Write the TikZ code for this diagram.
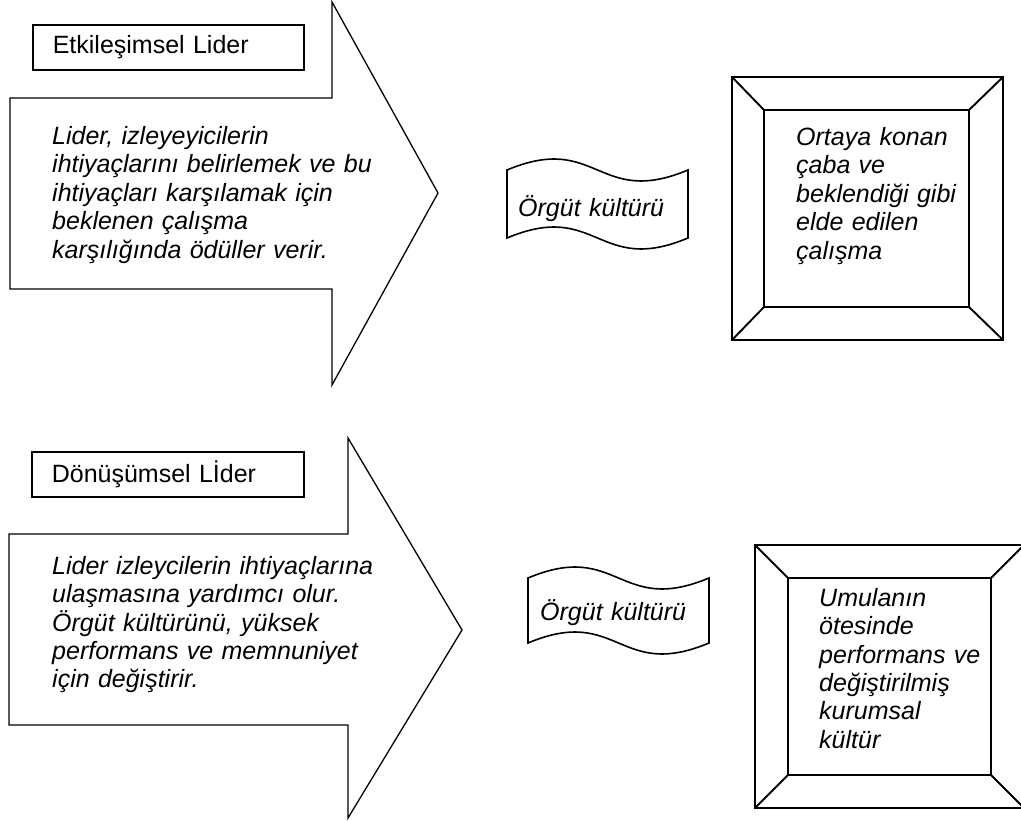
\documentclass[tikz,border=0pt]{standalone}
\usepackage{fontspec}
\setmainfont{Liberation Sans}
\begin{document}
\begin{tikzpicture}[x=1pt,y=-1pt,
  arrowline/.style={draw=black, line width=1.3pt, line join=miter},
  labelbox/.style={draw=black, line width=1.6pt, anchor=north west,
    inner xsep=20pt, inner ysep=0pt, text width=231pt, minimum height=45pt,
    align=left, font=\fontsize{25}{28.5}\selectfont},
  bodytext/.style={anchor=base west, inner sep=0pt, align=left,
    text width=420pt, font=\fontsize{25}{28.5}\selectfont\itshape},
  bevelline/.style={draw=black, line width=1.9pt},
  flagline/.style={draw=black, line width=1.6pt}]
\useasboundingbox (0,0) rectangle (1021,821);

% ---- upper row: transactional leader ----
\draw[arrowline] (10,98) -- (332,98) -- (332,2) -- (438,193) -- (332,385)
  -- (332,289) -- (10,289) -- cycle;
\node[labelbox] (lab1) at (32,24) {Etkileşimsel Lider};
\node[bodytext] (txt1) at (52,144.5) {Lider, izleyeyicilerin\\
  ihtiyaçlarını belirlemek ve bu\\ ihtiyaçları karşılamak için\\
  beklenen çalışma\\ karşılığında ödüller verir.};

% wave-shaped banner
\draw[flagline] (507,170) .. controls (597.5,132) and (597.5,208) .. (688,170)
  -- (688,238) .. controls (597.5,276) and (597.5,200) .. (507,238) -- cycle;
\node[bodytext] (flag1) at (518,216.5) {Örgüt kültürü};

% bevelled frame
\coordinate (o1a) at (732,77);  \coordinate (o1b) at (1003,77);
\coordinate (o1c) at (1003,340); \coordinate (o1d) at (732,340);
\coordinate (i1a) at (764,110); \coordinate (i1b) at (969,110);
\coordinate (i1c) at (969,307); \coordinate (i1d) at (764,307);
\draw[bevelline] (o1a) -- (o1b) -- (o1c) -- (o1d) -- cycle;
\draw[bevelline] (i1a) -- (i1b) -- (i1c) -- (i1d) -- cycle;
\draw[bevelline] (o1a) -- (i1a) (o1b) -- (i1b) (o1c) -- (i1c) (o1d) -- (i1d);
\node[bodytext] (res1) at (796,145.5) {Ortaya konan\\ çaba ve\\
  beklendiği gibi\\ elde edilen\\ çalışma};

% ---- lower row: transformational leader ----
\draw[arrowline] (9,534) -- (348,534) -- (348,438) -- (462,630) -- (348,818)
  -- (348,725) -- (9,725) -- cycle;
\node[labelbox, text width=232pt] (lab2) at (31,451) {Dönüşümsel Lİder};
\node[bodytext, font=\fontsize{25}{28.3}\selectfont\itshape] (txt2) at (52,574.5)
  {Lider izleycilerin ihtiyaçlarına\\ ulaşmasına yardımcı olur.\\
  Örgüt kültürünü, yüksek\\ performans ve memnuniyet\\ için değiştirir.};

\draw[flagline] (528,578) .. controls (618.5,540) and (618.5,616) .. (709,578)
  -- (709,643) .. controls (618.5,681) and (618.5,605) .. (528,643) -- cycle;
\node[bodytext] (flag2) at (540,620) {Örgüt kültürü};

\coordinate (o2a) at (755,545);  \coordinate (o2b) at (1024,545);
\coordinate (o2c) at (1024,808); \coordinate (o2d) at (755,808);
\coordinate (i2a) at (788,578); \coordinate (i2b) at (991,578);
\coordinate (i2c) at (991,775); \coordinate (i2d) at (788,775);
\draw[bevelline] (o2a) -- (o2b) -- (o2c) -- (o2d) -- cycle;
\draw[bevelline] (i2a) -- (i2b) -- (i2c) -- (i2d) -- cycle;
\draw[bevelline] (o2a) -- (i2a) (o2b) -- (i2b) (o2c) -- (i2c) (o2d) -- (i2d);
\node[bodytext, font=\fontsize{25}{28.3}\selectfont\itshape] (res2) at (819,606.5)
  {Umulanın\\ ötesinde\\ performans ve\\ değiştirilmiş\\ kurumsal\\ kültür};
\end{tikzpicture}
\end{document}
